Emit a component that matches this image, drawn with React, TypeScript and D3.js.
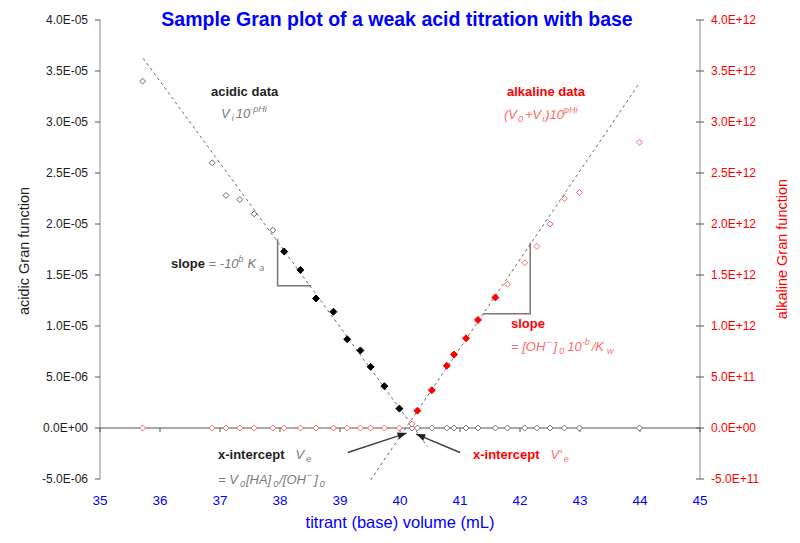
import React from "react";
import * as d3 from "d3";

// ---- data ----
const acidX = [35.71, 36.87, 37.10, 37.33, 37.57, 37.88, 38.07, 38.34, 38.60, 38.89, 39.12, 39.34, 39.51, 39.74, 39.99];
const acidY = [3.40e-5, 2.60e-5, 2.28e-5, 2.24e-5, 2.10e-5, 1.94e-5, 1.73e-5, 1.55e-5, 1.27e-5, 1.14e-5, 0.87e-5, 0.76e-5, 0.60e-5, 0.41e-5, 0.19e-5];
const acidUsed = [false, false, false, false, false, false, true, true, true, true, true, true, true, true, true];

const alkX = [40.20, 40.29, 40.53, 40.78, 40.90, 41.10, 41.30, 41.59, 41.79, 42.08, 42.28, 42.50, 42.74, 42.99, 43.99];
const alkY = [0.04e12, 0.17e12, 0.37e12, 0.61e12, 0.72e12, 0.88e12, 1.06e12, 1.28e12, 1.41e12, 1.62e12, 1.78e12, 2.00e12, 2.25e12, 2.31e12, 2.80e12];
const alkUsed = [false, true, true, true, true, true, true, true, false, false, false, false, false, false, false];

// fitted lines (end points)
const acidLineX = [35.72, 40.46];
const acidLineY = [3.625e-5, -0.183e-5];
const alkLineX = [39.51, 44.0];
const alkLineY = [-0.51e12, 3.39e12];

// slope triangles
const acidTriX = [37.96, 37.96, 38.52];
const acidTriY = [1.85e-5, 1.395e-5, 1.395e-5];
const alkTriX = [42.17, 42.17, 41.38];
const alkTriY = [1.817e12, 1.12e12, 1.12e12];

const xTicks = [35, 36, 37, 38, 39, 40, 41, 42, 43, 44, 45];
const yLeftTicks = [-5e-6, 0, 5e-6, 1e-5, 1.5e-5, 2e-5, 2.5e-5, 3e-5, 3.5e-5, 4e-5];
const yRightTicks = [-5e11, 0, 5e11, 1e12, 1.5e12, 2e12, 2.5e12, 3e12, 3.5e12, 4e12];

const TITLE = "Sample Gran plot of a weak acid titration with base";

const FONT = "'Liberation Sans', Arial, sans-serif";
const BLUE = "#0000FF";
const RED = "#FF0000";
const LRED = "#FF6A6A";
const GRAY = "#7a7a7a";
const DARK = "#1e1e1e";

function fmtE(v: number): string {
  if (v === 0) return "0.0E+00";
  const s = v.toExponential(1).toUpperCase();
  const [m, e] = s.split("E");
  const sign = e[0] === "-" ? "-" : "+";
  const digits = e.replace(/[+-]/, "").padStart(2, "0");
  return `${m}E${sign}${digits}`;
}

function diamond(cx: number, cy: number, r: number) {
  return `M${cx},${cy - r}L${cx + r},${cy}L${cx},${cy + r}L${cx - r},${cy}Z`;
}

export default function App() {
  const W = 800, H = 543;
  const x = d3.scaleLinear().domain([35, 45]).range([100, 700]);
  const yL = d3.scaleLinear().domain([-5e-6, 4e-5]).range([479, 20]);
  const yR = d3.scaleLinear().domain([-5e11, 4e12]).range([479, 20]);
  const y0 = yL(0);

  const lineL = d3.line<number>().x((_, i) => x(acidLineX[i])).y((d) => yL(d));
  const lineR = d3.line<number>().x((_, i) => x(alkLineX[i])).y((d) => yR(d));
  const triL = d3.line<number>().x((_, i) => x(acidTriX[i])).y((d) => yL(d));
  const triR = d3.line<number>().x((_, i) => x(alkTriX[i])).y((d) => yR(d));

  // arrows (annotation positions in data units)
  const arrowL = { x1: x(39.13), y1: yL(-0.24e-5), x2: x(40.11), y2: yL(-0.05e-5) };
  const arrowR = { x1: x(41.0), y1: yL(-0.24e-5), x2: x(40.27), y2: yL(-0.06e-5) };

  const arrowHead = (a: { x1: number; y1: number; x2: number; y2: number }) => {
    const ang = Math.atan2(a.y2 - a.y1, a.x2 - a.x1);
    const len = 9, wid = 3.5;
    const bx = a.x2 - len * Math.cos(ang), by = a.y2 - len * Math.sin(ang);
    const px = -Math.sin(ang) * wid, py = Math.cos(ang) * wid;
    return `M${a.x2},${a.y2}L${bx + px},${by + py}L${bx - px},${by - py}Z`;
  };

  return (
    <svg width={W} height={H} style={{ display: "block", position: "absolute", left: 0, top: 0, background: "#fff" }} fontFamily={FONT}>
      <rect x={0} y={0} width={W} height={H} fill="#fff" />
      {/* title */}
      <text x={397} y={26} textAnchor="middle" fontSize={19.5} fontWeight="bold" fill={BLUE}>{TITLE}</text>

      {/* left axis */}
      <line x1={100} x2={100} y1={20} y2={479} stroke="#8c8c8c" />
      {yLeftTicks.map((t) => (
        <g key={"l" + t}>
          <line x1={95} x2={100} y1={yL(t)} y2={yL(t)} stroke="#555" />
          <text x={88} y={yL(t) + 4} textAnchor="end" fontSize={12} fill={DARK}>{fmtE(t)}</text>
        </g>
      ))}
      {/* right axis */}
      <line x1={700} x2={700} y1={20} y2={479} stroke="#8c8c8c" />
      {yRightTicks.map((t) => (
        <g key={"r" + t}>
          <line x1={696} x2={704} y1={yR(t)} y2={yR(t)} stroke="#555" />
          <text x={711} y={yR(t) + 4} textAnchor="start" fontSize={12} fill={RED}>{fmtE(t)}</text>
        </g>
      ))}
      {/* x axis at zero */}
      <line x1={100} x2={700} y1={y0} y2={y0} stroke="#555" />
      {xTicks.map((t) => (
        <g key={"x" + t}>
          <line x1={x(t)} x2={x(t)} y1={y0} y2={y0 + 4} stroke="#555" />
          <text x={x(t)} y={505} textAnchor="middle" fontSize={13.5} fill={BLUE}>{t}</text>
        </g>
      ))}

      {/* axis titles */}
      <text transform={`translate(29,251) rotate(-90)`} textAnchor="middle" fontSize={14.5} fill={DARK}>acidic Gran function</text>
      <text transform={`translate(787,249) rotate(-90)`} textAnchor="middle" fontSize={14.5} fill={RED}>alkaline Gran function</text>
      <text x={400} y={528} textAnchor="middle" fontSize={16.5} fill={BLUE}>titrant (base) volume (mL)</text>

      {/* fitted lines */}
      <path d={lineL(acidLineY) || ""} fill="none" stroke="#6e6e6e" strokeWidth={1} strokeDasharray="3,3" />
      <path d={lineR(alkLineY) || ""} fill="none" stroke="#6e6e6e" strokeWidth={1} strokeDasharray="3,3" />

      {/* slope triangles */}
      <path d={triL(acidTriY) || ""} fill="none" stroke="#777" strokeWidth={1.5} />
      <path d={triR(alkTriY) || ""} fill="none" stroke="#777" strokeWidth={1.5} />

      {/* zero rows */}
      {acidX.map((v, i) => (
        <path key={"rz" + i} d={diamond(x(v), yR(0), 3)} fill="#fff" stroke={LRED} strokeWidth={1} />
      ))}
      {alkX.map((v, i) => (
        <path key={"bz" + i} d={diamond(x(v), yL(0), 3)} fill="#fff" stroke="#777" strokeWidth={1} />
      ))}

      {/* acidic data */}
      {acidX.map((v, i) => (
        <path key={"a" + i} d={diamond(x(v), yL(acidY[i]), acidUsed[i] ? 3.5 : 3)}
          fill={acidUsed[i] ? "#000" : "#fff"} stroke={acidUsed[i] ? "#000" : "#666"} strokeWidth={1} />
      ))}
      {/* alkaline data */}
      {alkX.map((v, i) => (
        <path key={"k" + i} d={diamond(x(v), yR(alkY[i]), alkUsed[i] ? 3.5 : 3)}
          fill={alkUsed[i] ? RED : "#fff"} stroke={alkUsed[i] ? RED : LRED} strokeWidth={1} />
      ))}

      {/* arrows */}
      {[arrowL, arrowR].map((a, i) => (
        <g key={"ar" + i}>
          <line x1={a.x1} y1={a.y1} x2={a.x2} y2={a.y2} stroke="#404040" strokeWidth={1.5} />
          <path d={arrowHead(a)} fill="#202020" />
        </g>
      ))}

      {/* annotations */}
      <text x={211} y={96} fontSize={13} fontWeight="bold" fill={DARK}>acidic data</text>
      <text x={221} y={118} fontSize={13} fontStyle="italic" fill={GRAY}>
        <tspan>V</tspan>
        <tspan fontSize={9} dx={2} dy={3}>i</tspan>
        <tspan dx={2} dy={-3}>10</tspan>
        <tspan fontSize={9} dy={-6}>-pHi</tspan>
      </text>

      <text x={507} y={96} fontSize={13} fontWeight="bold" fill={RED}>alkaline data</text>
      <text x={504} y={119} fontSize={13} fontStyle="italic" fill={LRED}>
        <tspan>(V</tspan>
        <tspan fontSize={9} dx={1} dy={3}>0</tspan>
        <tspan dx={2} dy={-3}>+V</tspan>
        <tspan fontSize={9} dx={1} dy={3}>i</tspan>
        <tspan dx={1} dy={-3}>)10</tspan>
        <tspan fontSize={9} dy={-6}>pHi</tspan>
      </text>

      <text x={171} y={268} fontSize={13}>
        <tspan fontWeight="bold" fill={DARK}>slope</tspan>
        <tspan fill={GRAY}> = </tspan>
        <tspan fill={GRAY} fontStyle="italic">-10</tspan>
        <tspan fill={GRAY} fontStyle="italic" fontSize={9} dy={-6}>b</tspan>
        <tspan fill={GRAY} fontStyle="italic" dx={4} dy={6}>K</tspan>
        <tspan fill={GRAY} fontStyle="italic" fontSize={9} dx={3} dy={3}>a</tspan>
      </text>

      <text x={511} y={328} fontSize={13} fontWeight="bold" fill={RED}>slope</text>
      <text x={511} y={351} fontSize={13} fontStyle="italic" fill={LRED}>
        <tspan>= [OH</tspan>
        <tspan fontSize={9} dx={1} dy={-6}>−</tspan>
        <tspan dx={2} dy={6}>]</tspan>
        <tspan fontSize={9} dx={2} dy={3}>0</tspan>
        <tspan dx={3} dy={-3}>10</tspan>
        <tspan fontSize={9} dy={-6}>-b</tspan>
        <tspan dx={2} dy={6}>/K</tspan>
        <tspan fontSize={9} dx={3} dy={3}>w</tspan>
      </text>

      <text x={218} y={459} fontSize={13}>
        <tspan fontWeight="bold" fill={DARK}>x-intercept</tspan>
        <tspan fill={GRAY} fontStyle="italic" dx={11}>V</tspan>
        <tspan fill={GRAY} fontStyle="italic" fontSize={9} dx={2} dy={3}>e</tspan>
      </text>
      <text x={218} y={484} fontSize={13} fontStyle="italic" fill={GRAY}>
        <tspan>= V</tspan>
        <tspan fontSize={9} dx={2} dy={3}>0</tspan>
        <tspan dx={1} dy={-3}>[HA]</tspan>
        <tspan fontSize={9} dx={2} dy={3}>0</tspan>
        <tspan dx={1} dy={-3}>/[OH</tspan>
        <tspan fontSize={9} dx={1} dy={-6}>−</tspan>
        <tspan dx={2} dy={6}>]</tspan>
        <tspan fontSize={9} dx={2} dy={3}>0</tspan>
      </text>

      <text x={473} y={459} fontSize={13}>
        <tspan fontWeight="bold" fill={RED}>x-intercept</tspan>
        <tspan fill={LRED} fontStyle="italic" dx={11}>V'</tspan>
        <tspan fill={LRED} fontStyle="italic" fontSize={9} dx={2} dy={3}>e</tspan>
      </text>
    </svg>
  );
}
